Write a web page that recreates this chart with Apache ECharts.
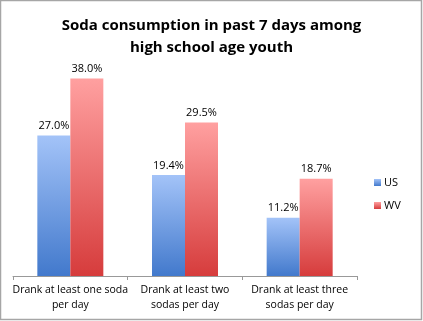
<!DOCTYPE html>
<html><head><meta charset="utf-8">
<script src="https://cdn.jsdelivr.net/npm/echarts@6/dist/echarts.min.js"></script>
<style>html,body{margin:0;padding:0;background:#fff}#c{width:423px;height:321px}</style>
</head><body><div id="c"></div>
<script>
const categories = ["Drank at least one soda\nper day", "Drank at least two\nsodas per day", "Drank at least three\nsodas per day"];
const usValues = [27.0, 19.4, 11.2];
const wvValues = [38.0, 29.5, 18.7];
const seriesNames = ["US", "WV"];

const chart = echarts.init(document.getElementById('c'), null, {renderer: 'canvas'});
function grad(top, bottom) {
  return new echarts.graphic.LinearGradient(0, 0, 0, 1, [{offset: 0, color: top}, {offset: 1, color: bottom}]);
}
const fontFam = '"Open Sans", "Liberation Sans", sans-serif';
chart.setOption({
  animation: false,
  backgroundColor: '#fff',
  graphic: [{type: 'rect', shape: {x: 0.5, y: 0.5, width: 421, height: 319}, style: {fill: 'none', stroke: '#a6a6a6', lineWidth: 1.5}}],
  title: {
    text: 'Soda consumption in past 7 days among\nhigh school age youth',
    left: 'center', top: 10,
    textStyle: {fontFamily: fontFam, fontWeight: 'bold', fontSize: 15, lineHeight: 22, color: '#000'}
  },
  legend: {
    data: seriesNames, orient: 'vertical', left: 369, top: 172, itemGap: 12,
    itemWidth: 7, itemHeight: 7, icon: 'rect',
    textStyle: {fontFamily: fontFam, fontSize: 11, color: '#000', padding: [0,0,0,-2]}
  },
  grid: {left: 13, top: 68, width: 344, height: 208},
  xAxis: {
    type: 'category', data: categories,
    axisLine: {lineStyle: {color: '#999'}},
    axisTick: {show: true, length: 4, lineStyle: {color: '#999'}},
    axisLabel: {fontFamily: fontFam, fontSize: 10.5, color: '#000', lineHeight: 15, margin: 7, interval: 0}
  },
  yAxis: {type: 'value', min: 0, max: 40, show: false, splitLine: {show: false}},
  series: [
    {name: 'US', type: 'bar', data: usValues, barWidth: 33, barGap: '0%',
     itemStyle: {color: grad('#a3c3f8', '#4279cc')},
     label: {show: true, position: 'top', formatter: p => p.value.toFixed(1) + '%', fontFamily: fontFam, fontSize: 11, color: '#000', distance: 4}},
    {name: 'WV', type: 'bar', data: wvValues, barWidth: 33,
     itemStyle: {color: grad('#ffa0a0', '#d63c3c')},
     label: {show: true, position: 'top', formatter: p => p.value.toFixed(1) + '%', fontFamily: fontFam, fontSize: 11, color: '#000', distance: 4}}
  ]
});
</script></body></html>
